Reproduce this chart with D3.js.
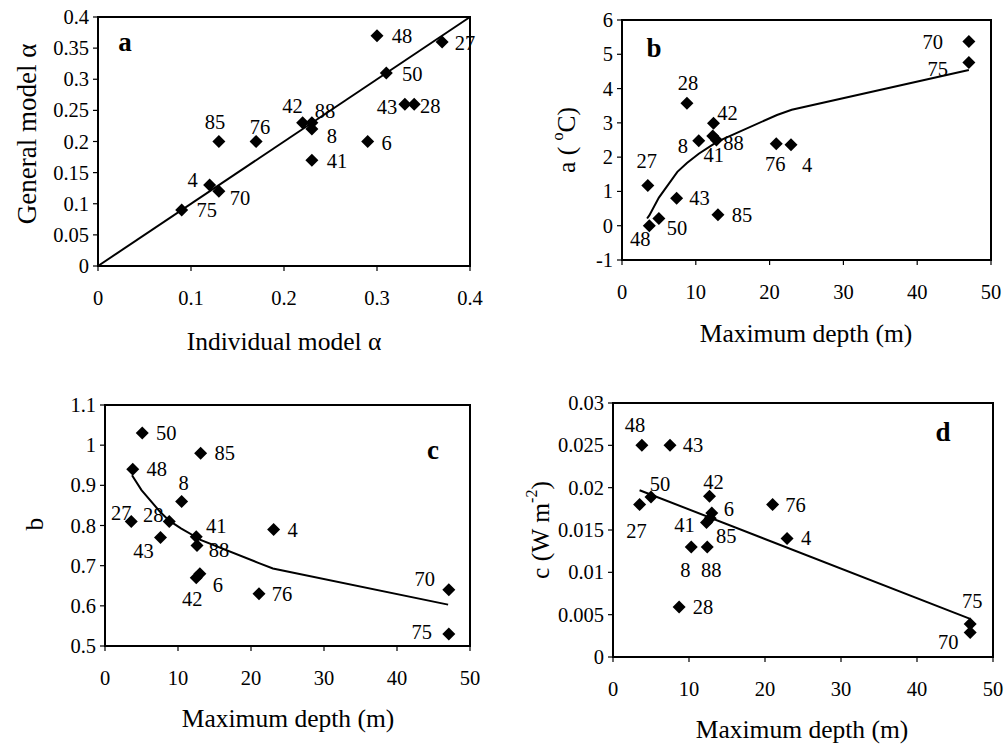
<!DOCTYPE html>
<html>
<head>
<meta charset="utf-8">
<script src="https://cdn.jsdelivr.net/npm/d3@7"></script>
<style>
  body { margin: 0; background: #fff; }
  text { font-family: "Liberation Serif", "Times New Roman", serif; fill: #000; }
</style>
</head>
<body>
<div id="chart"></div>
<script>
// panel a: general vs individual model alpha
const lakesA = ["48", "27", "50", "43", "28", "42", "88", "8", "85", "76", "6", "41", "4", "70", "75"];
const alphaInd = [0.30, 0.37, 0.31, 0.33, 0.34, 0.22, 0.23, 0.23, 0.13, 0.17, 0.29, 0.23, 0.12, 0.13, 0.09];
const alphaGen = [0.37, 0.36, 0.31, 0.26, 0.26, 0.23, 0.23, 0.22, 0.20, 0.20, 0.20, 0.17, 0.13, 0.12, 0.09];
const lineA = [[0, 0], [0.4, 0.4]];

// panel b: a vs max depth
const lakesB = ["70", "75", "28", "42", "41", "88", "8", "76", "4", "27", "43", "85", "50", "48"];
const depthB = [47, 47, 8.8, 12.4, 12.3, 12.8, 10.4, 20.9, 22.9, 3.5, 7.4, 13, 5, 3.7];
const aVals = [5.37, 4.76, 3.57, 2.99, 2.62, 2.5, 2.48, 2.39, 2.36, 1.17, 0.8, 0.32, 0.21, 0.0];
const fitBx = [3.4, 3.7, 5, 7.5, 8.8, 10.4, 12.4, 12.8, 13, 21, 23, 47];
const fitBy = [0.21, 0.3, 0.82, 1.57, 1.83, 2.1, 2.38, 2.43, 2.46, 3.23, 3.38, 4.54];

// panel c: b vs max depth
const lakesC = ["50", "85", "48", "8", "27", "28", "43", "41", "88", "4", "42", "6", "76", "70", "75"];
const depthC = [5.1, 13.1, 3.8, 10.5, 3.6, 8.8, 7.6, 12.5, 12.6, 23.1, 12.5, 13, 21.1, 47.1, 47.1];
const bVals = [1.03, 0.98, 0.94, 0.86, 0.81, 0.81, 0.77, 0.772, 0.75, 0.79, 0.67, 0.68, 0.63, 0.64, 0.53];
const fitCx = [3.7, 5, 7.5, 8.8, 10.4, 12.4, 12.8, 13, 21, 23, 47];
const fitCy = [0.925, 0.888, 0.835, 0.812, 0.793, 0.772, 0.768, 0.765, 0.707, 0.693, 0.603];

// panel d: c vs max depth
const lakesD = ["48", "43", "42", "50", "27", "76", "6", "41", "85", "4", "8", "88", "28", "75", "70"];
const depthD = [3.8, 7.5, 12.7, 5, 3.5, 21, 13, 12.3, 12.8, 22.9, 10.3, 12.4, 8.7, 47, 47];
const cVals = [0.025, 0.025, 0.019, 0.0189, 0.018, 0.018, 0.017, 0.0159, 0.0164, 0.014, 0.013, 0.013, 0.0059, 0.0039, 0.0029];
const fitDx = [3.5, 47];
const fitDy = [0.0197, 0.0045];

const ticksA = [0, 0.05, 0.1, 0.15, 0.2, 0.25, 0.3, 0.35, 0.4];
const ticksAx = [0, 0.1, 0.2, 0.3, 0.4];
const ticksDepth = [0, 10, 20, 30, 40, 50];
const ticksB = [-1, 0, 1, 2, 3, 4, 5, 6];
const ticksC = [0.5, 0.6, 0.7, 0.8, 0.9, 1, 1.1];
const ticksD = [0, 0.005, 0.01, 0.015, 0.02, 0.025, 0.03];

// label offsets (px) from each diamond
const offA = {"48":[25,0],"27":[23,1],"50":[26,1],"43":[-18,3],"28":[16,2],"42":[-10,-17],"88":[13,-12],"8":[20,7],
  "85":[-4,-20],"76":[4,-15],"6":[19,1],"41":[25,1],"4":[-17,-5],"70":[21,7],"75":[25,0]};
const offB = {"70":[-36,0],"75":[-31,6],"28":[1,-20],"42":[14,-10],"41":[1,19],"88":[17,3],"8":[-16,5],"76":[-1,20],
  "4":[16,20],"27":[-1,-25],"43":[23,0],"85":[24,0],"50":[18,9],"48":[-9,13]};
const offC = {"50":[24,0],"85":[24,0],"48":[24,0],"8":[2,-18],"27":[-10,-8],"28":[-16,-6],"43":[-17,13],"41":[20,-11],
  "88":[22,4],"4":[19,0],"42":[-4,21],"6":[18,11],"76":[23,0],"70":[-24,-11],"75":[-27,-2]};
const offD = {"48":[-7,-20],"43":[23,0],"42":[4,-14],"50":[9,-13],"27":[-3,26],"76":[23,0],"6":[17,-4],"41":[-22,3],
  "85":[16,18],"4":[19,0],"8":[-6,23],"88":[4,23],"28":[24,0],"75":[2,-23],"70":[-22,10]};

const svg = d3.select("#chart").append("svg")
  .attr("width", 1005)
  .attr("height", 744);

const fmt = v => String(+v.toFixed(4));

function panel(p) {
  const x = d3.scaleLinear().domain(p.xd).range([p.l, p.r]);
  const y = d3.scaleLinear().domain(p.yd).range([p.b, p.t]);
  const g = svg.append("g");

  // ticks
  g.selectAll(".xt").data(p.xt).enter().append("line")
    .attr("x1", d => x(d)).attr("x2", d => x(d))
    .attr("y1", p.b).attr("y2", p.b + 5)
    .attr("stroke", "#000").attr("stroke-width", 1.2);
  g.selectAll(".yt").data(p.yt).enter().append("line")
    .attr("x1", p.l - 5).attr("x2", p.l)
    .attr("y1", d => y(d)).attr("y2", d => y(d))
    .attr("stroke", "#000").attr("stroke-width", 1.2);

  g.selectAll(".xl").data(p.xt).enter().append("text")
    .attr("x", d => x(d)).attr("y", p.b + 32)
    .attr("text-anchor", "middle").attr("dominant-baseline", "central")
    .style("font-size", "20.5px").text(fmt);
  g.selectAll(".yl").data(p.yt).enter().append("text")
    .attr("x", p.l - 9).attr("y", d => y(d))
    .attr("text-anchor", "end").attr("dominant-baseline", "central")
    .style("font-size", "20.5px").text(fmt);

  // fitted line
  const line = d3.line().x(d => x(d[0])).y(d => y(d[1]));
  g.append("path").datum(p.fit)
    .attr("d", line).attr("fill", "none")
    .attr("stroke", "#000").attr("stroke-width", 2);

  // frame
  g.append("rect")
    .attr("x", p.l).attr("y", p.t)
    .attr("width", p.r - p.l).attr("height", p.b - p.t)
    .attr("fill", "none").attr("stroke", "#000").attr("stroke-width", 2);

  const pts = p.names.map((n, i) => ({n: n, x: p.xs[i], y: p.ys[i]}));
  g.selectAll(".pt").data(pts).enter().append("path")
    .attr("transform", d => "translate(" + x(d.x) + "," + y(d.y) + ")")
    .attr("d", "M0,-6.5L6.5,0L0,6.5L-6.5,0Z")
    .attr("fill", "#000");
  g.selectAll(".lab").data(pts).enter().append("text")
    .attr("x", d => x(d.x) + p.off[d.n][0])
    .attr("y", d => y(d.y) + p.off[d.n][1])
    .attr("text-anchor", "middle").attr("dominant-baseline", "central")
    .style("font-size", "20.5px").text(d => d.n);

  g.append("text")
    .attr("x", p.letter[0]).attr("y", p.letter[1])
    .attr("text-anchor", "middle").attr("dominant-baseline", "central")
    .style("font-size", "27px").style("font-weight", "bold")
    .text(p.letter[2]);

  g.append("text")
    .attr("x", p.xtitle[0]).attr("y", p.xtitle[1])
    .attr("text-anchor", "middle").attr("dominant-baseline", "central")
    .style("font-size", "25.5px").text(p.xtitle[2]);

  const yt = g.append("text")
    .attr("transform", "translate(" + p.ytitle[0] + "," + p.ytitle[1] + ") rotate(-90)")
    .attr("text-anchor", "middle").attr("dominant-baseline", "central")
    .style("font-size", p.yfs || "25.5px");
  p.ytitle[2].forEach(s => {
    const t = yt.append("tspan").text(s[0]);
    if (s[1]) t.attr("dy", s[1]).style("font-size", "16px");
    if (s[2]) t.attr("dy", s[2]);
  });
}

panel({l: 98, r: 470, t: 17, b: 266, xd: [0, 0.4], yd: [0, 0.4], xt: ticksAx, yt: ticksA,
  names: lakesA, xs: alphaInd, ys: alphaGen, fit: lineA, off: offA,
  letter: [125, 42, "a"], xtitle: [284, 341, "Individual model α"],
  ytitle: [27, 134, [["General model  α"]]], yfs: "27px"});

panel({l: 622, r: 991, t: 20, b: 260, xd: [0, 50], yd: [-1, 6], xt: ticksDepth, yt: ticksB,
  names: lakesB, xs: depthB, ys: aVals, fit: d3.zip(fitBx, fitBy), off: offB,
  letter: [654, 48, "b"], xtitle: [806, 333, "Maximum depth (m)"],
  ytitle: [566, 140, [["a ( "], ["o", -9], ["C)", null, 9]]]});

panel({l: 105, r: 470, t: 405, b: 646, xd: [0, 50], yd: [0.5, 1.1], xt: ticksDepth, yt: ticksC,
  names: lakesC, xs: depthC, ys: bVals, fit: d3.zip(fitCx, fitCy), off: offC,
  letter: [433, 450, "c"], xtitle: [288, 718, "Maximum depth (m)"],
  ytitle: [34, 524, [["b"]]]});

panel({l: 613, r: 993, t: 403, b: 657, xd: [0, 50], yd: [0, 0.03], xt: ticksDepth, yt: ticksD,
  names: lakesD, xs: depthD, ys: cVals, fit: d3.zip(fitDx, fitDy), off: offD,
  letter: [943, 432, "d"], xtitle: [802, 729, "Maximum depth (m)"],
  ytitle: [540, 530, [["c (W m"], ["-2", -9], [")", null, 9]]]});
</script>
</body>
</html>
